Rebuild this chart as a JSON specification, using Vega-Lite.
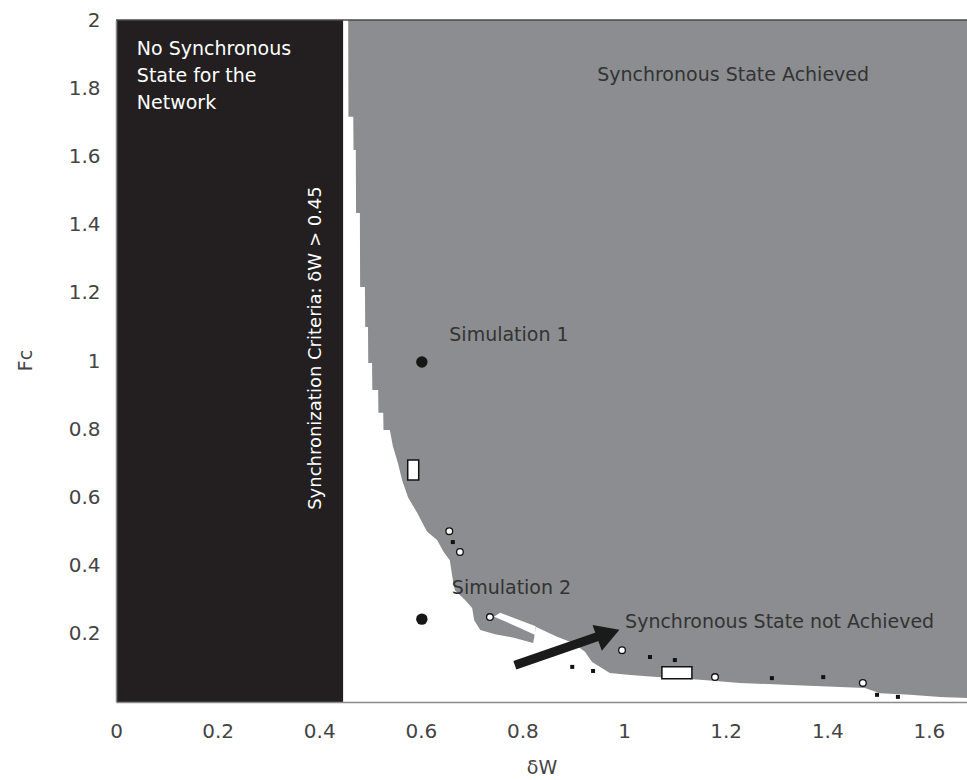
{
  "$schema": "https://vega.github.io/schema/vega-lite/v6.json",
  "width": 851,
  "height": 682,
  "autosize": {"type": "none"},
  "padding": {"left": 116, "top": 20, "right": 0, "bottom": 78},
  "background": "white",
  "config": {"view": {"stroke": null}, "font": "DejaVu Sans"},
  "datasets": {
    "zones": [{"zone": "No synchronous state", "dw": 0, "dw_to": 0.447, "fc": 0, "fc_to": 2}],
    "boundary": [
      {"dw": 0.4570, "fc": 2.000}, {"dw": 0.4575, "fc": 1.716}, {"dw": 0.4670, "fc": 1.716}, {"dw": 0.4675, "fc": 1.619},
      {"dw": 0.4720, "fc": 1.619}, {"dw": 0.4725, "fc": 1.434}, {"dw": 0.4800, "fc": 1.434}, {"dw": 0.4805, "fc": 1.217},
      {"dw": 0.4900, "fc": 1.217}, {"dw": 0.4905, "fc": 1.100}, {"dw": 0.4960, "fc": 1.100}, {"dw": 0.4965, "fc": 0.994},
      {"dw": 0.5040, "fc": 0.994}, {"dw": 0.5045, "fc": 0.915}, {"dw": 0.5160, "fc": 0.915}, {"dw": 0.5165, "fc": 0.848},
      {"dw": 0.5260, "fc": 0.848}, {"dw": 0.5265, "fc": 0.798}, {"dw": 0.5390, "fc": 0.798}, {"dw": 0.5450, "fc": 0.750},
      {"dw": 0.5550, "fc": 0.700}, {"dw": 0.5630, "fc": 0.651}, {"dw": 0.5750, "fc": 0.600}, {"dw": 0.5930, "fc": 0.554},
      {"dw": 0.6120, "fc": 0.500}, {"dw": 0.6320, "fc": 0.475}, {"dw": 0.6450, "fc": 0.440}, {"dw": 0.6570, "fc": 0.416},
      {"dw": 0.6630, "fc": 0.358}, {"dw": 0.6670, "fc": 0.328}, {"dw": 0.6870, "fc": 0.299}, {"dw": 0.7010, "fc": 0.276},
      {"dw": 0.7050, "fc": 0.240}, {"dw": 0.7170, "fc": 0.211}, {"dw": 0.7460, "fc": 0.199}, {"dw": 0.7850, "fc": 0.188},
      {"dw": 0.8210, "fc": 0.173}, {"dw": 0.8270, "fc": 0.220}, {"dw": 0.8680, "fc": 0.191}, {"dw": 0.9000, "fc": 0.173},
      {"dw": 0.9230, "fc": 0.147}, {"dw": 0.9370, "fc": 0.117}, {"dw": 0.9720, "fc": 0.085}, {"dw": 1.0120, "fc": 0.079},
      {"dw": 1.0650, "fc": 0.073}, {"dw": 1.1500, "fc": 0.065}, {"dw": 1.2280, "fc": 0.056}, {"dw": 1.3270, "fc": 0.050},
      {"dw": 1.4250, "fc": 0.044}, {"dw": 1.4740, "fc": 0.041}, {"dw": 1.5040, "fc": 0.026}, {"dw": 1.5630, "fc": 0.021},
      {"dw": 1.6220, "fc": 0.015}, {"dw": 1.6750, "fc": 0.012}
    ],
    "notch": [
      {"dw": 0.744, "fc": 0.250, "fc_hi": 0.250},
      {"dw": 0.756, "fc": 0.243, "fc_hi": 0.262},
      {"dw": 0.795, "fc": 0.217, "fc_hi": 0.240},
      {"dw": 0.826, "fc": 0.196, "fc_hi": 0.222}
    ],
    "islands_tall": [{"dw": 0.585, "fc": 0.68}],
    "islands_wide": [{"dw": 1.104, "fc": 0.086}],
    "islands_small": [
      {"dw": 0.656, "fc": 0.501}, {"dw": 0.677, "fc": 0.44}, {"dw": 0.736, "fc": 0.249},
      {"dw": 0.996, "fc": 0.152}, {"dw": 1.179, "fc": 0.073}, {"dw": 1.470, "fc": 0.056}
    ],
    "specks": [
      {"dw": 0.663, "fc": 0.469}, {"dw": 0.898, "fc": 0.103}, {"dw": 0.939, "fc": 0.091}, {"dw": 1.051, "fc": 0.132},
      {"dw": 1.100, "fc": 0.123}, {"dw": 1.291, "fc": 0.070}, {"dw": 1.392, "fc": 0.073}, {"dw": 1.498, "fc": 0.021},
      {"dw": 1.539, "fc": 0.015}
    ],
    "simulations": [
      {"name": "Simulation 1", "dw": 0.602, "fc": 0.997},
      {"name": "Simulation 2", "dw": 0.602, "fc": 0.243}
    ],
    "arrow": [{"dw": 0.785, "fc": 0.108, "dw_end": 0.950, "fc_end": 0.193}],
    "arrow_head": [{"dw": 0.969, "fc": 0.200}],
    "dark_labels": [
      {"label": "Synchronous State Achieved", "dw": 0.947, "fc": 1.839},
      {"label": "Simulation 1", "dw": 0.656, "fc": 1.076},
      {"label": "Simulation 2", "dw": 0.661, "fc": 0.334},
      {"label": "Synchronous State not Achieved", "dw": 1.002, "fc": 0.235}
    ],
    "white_labels": [{"label": "No Synchronous\nState for the\nNetwork", "dw": 0.041, "fc": 1.94}],
    "criterion": [{"label": "Synchronization Criteria: δW > 0.45", "dw": 0.394, "fc": 1.038}],
    "frame": [{"fc": 2}]
  },
  "layer": [
    {
      "data": {"name": "zones"},
      "mark": {"type": "rect", "color": "#231f20"},
      "encoding": {
        "x": {
          "field": "dw", "type": "quantitative", "title": "δW",
          "scale": {"domain": [0, 1.675], "nice": false, "zero": false},
          "axis": {
            "values": [0, 0.2, 0.4, 0.6, 0.8, 1, 1.2, 1.4, 1.6], "format": "~g", "zindex": 1,
            "grid": false, "ticks": false, "labelFlush": false, "labelFontSize": 20, "labelColor": "#444444",
            "labelPadding": 19, "domainColor": "#8a8a8a", "domainWidth": 1.5,
            "titleFontSize": 19, "titleFontWeight": "normal", "titleColor": "#444444", "titleY": 56
          }
        },
        "x2": {"field": "dw_to"},
        "y": {
          "field": "fc", "type": "quantitative", "title": "Fc",
          "scale": {"domain": [0, 2], "nice": false},
          "axis": {
            "values": [0.2, 0.4, 0.6, 0.8, 1, 1.2, 1.4, 1.6, 1.8, 2], "format": "~g", "zindex": 1,
            "grid": false, "ticks": false, "labelFlush": false, "labelFontSize": 20, "labelColor": "#444444",
            "labelPadding": 16, "domainColor": "#8a8a8a", "domainWidth": 1.5,
            "titleFontSize": 19, "titleFontWeight": "normal", "titleColor": "#444444",
            "titleX": -91, "titleY": 340, "titleBaseline": "middle", "titleAlign": "center"
          }
        },
        "y2": {"field": "fc_to"}
      }
    },
    {
      "data": {"name": "boundary"},
      "mark": {"type": "area", "color": "#8b8d90", "interpolate": "linear"},
      "encoding": {
        "x": {"field": "dw", "type": "quantitative", "title": "δW"},
        "y": {"field": "fc", "type": "quantitative", "title": "Fc"},
        "y2": {"datum": 2}
      }
    },
    {
      "data": {"name": "notch"},
      "mark": {"type": "area", "color": "white"},
      "encoding": {
        "x": {"field": "dw", "type": "quantitative", "title": "δW"},
        "y": {"field": "fc", "type": "quantitative", "title": "Fc"},
        "y2": {"field": "fc_hi"}
      }
    },
    {
      "data": {"name": "islands_tall"},
      "mark": {"type": "point", "shape": "M -0.55 -1 L 0.55 -1 L 0.55 1 L -0.55 1 Z", "size": 400, "filled": true, "fill": "white", "stroke": "#111", "strokeWidth": 1.5, "opacity": 1},
      "encoding": {
        "x": {"field": "dw", "type": "quantitative", "title": "δW"},
        "y": {"field": "fc", "type": "quantitative", "title": "Fc"}
      }
    },
    {
      "data": {"name": "islands_wide"},
      "mark": {"type": "point", "shape": "M -1 -0.4 L 1 -0.4 L 1 0.4 L -1 0.4 Z", "size": 900, "filled": true, "fill": "white", "stroke": "#111", "strokeWidth": 1.5, "opacity": 1},
      "encoding": {
        "x": {"field": "dw", "type": "quantitative", "title": "δW"},
        "y": {"field": "fc", "type": "quantitative", "title": "Fc"}
      }
    },
    {
      "data": {"name": "islands_small"},
      "mark": {"type": "point", "shape": "circle", "size": 45, "filled": true, "fill": "white", "stroke": "#111", "strokeWidth": 1.3, "opacity": 1},
      "encoding": {
        "x": {"field": "dw", "type": "quantitative", "title": "δW"},
        "y": {"field": "fc", "type": "quantitative", "title": "Fc"}
      }
    },
    {
      "data": {"name": "specks"},
      "mark": {"type": "point", "shape": "square", "size": 16, "filled": true, "color": "#111", "opacity": 1},
      "encoding": {
        "x": {"field": "dw", "type": "quantitative", "title": "δW"},
        "y": {"field": "fc", "type": "quantitative", "title": "Fc"}
      }
    },
    {
      "data": {"name": "arrow"},
      "mark": {"type": "rule", "color": "#1a1a1a", "strokeWidth": 9},
      "encoding": {
        "x": {"field": "dw", "type": "quantitative", "title": "δW"},
        "y": {"field": "fc", "type": "quantitative", "title": "Fc"},
        "x2": {"field": "dw_end"},
        "y2": {"field": "fc_end"}
      }
    },
    {
      "data": {"name": "arrow_head"},
      "mark": {"type": "point", "shape": "triangle-right", "size": 750, "angle": 340, "filled": true, "color": "#1a1a1a", "opacity": 1},
      "encoding": {
        "x": {"field": "dw", "type": "quantitative", "title": "δW"},
        "y": {"field": "fc", "type": "quantitative", "title": "Fc"}
      }
    },
    {
      "data": {"name": "simulations"},
      "mark": {"type": "point", "shape": "circle", "size": 130, "filled": true, "color": "#161616", "opacity": 1},
      "encoding": {
        "x": {"field": "dw", "type": "quantitative", "title": "δW"},
        "y": {"field": "fc", "type": "quantitative", "title": "Fc"}
      }
    },
    {
      "data": {"name": "dark_labels"},
      "mark": {"type": "text", "align": "left", "baseline": "middle", "fontSize": 19, "color": "#333333"},
      "encoding": {
        "x": {"field": "dw", "type": "quantitative", "title": "δW"},
        "y": {"field": "fc", "type": "quantitative", "title": "Fc"},
        "text": {"field": "label"}
      }
    },
    {
      "data": {"name": "white_labels"},
      "mark": {"type": "text", "align": "left", "baseline": "top", "fontSize": 19, "lineHeight": 27, "lineBreak": "\n", "color": "white"},
      "encoding": {
        "x": {"field": "dw", "type": "quantitative", "title": "δW"},
        "y": {"field": "fc", "type": "quantitative", "title": "Fc"},
        "text": {"field": "label"}
      }
    },
    {
      "data": {"name": "criterion"},
      "mark": {"type": "text", "align": "center", "baseline": "middle", "angle": 270, "fontSize": 18, "color": "white"},
      "encoding": {
        "x": {"field": "dw", "type": "quantitative", "title": "δW"},
        "y": {"field": "fc", "type": "quantitative", "title": "Fc"},
        "text": {"field": "label"}
      }
    },
    {
      "data": {"name": "frame"},
      "mark": {"type": "rule", "color": "#4a4a4a", "strokeWidth": 1.5},
      "encoding": {"y": {"field": "fc", "type": "quantitative", "title": "Fc"}}
    }
  ]
}
